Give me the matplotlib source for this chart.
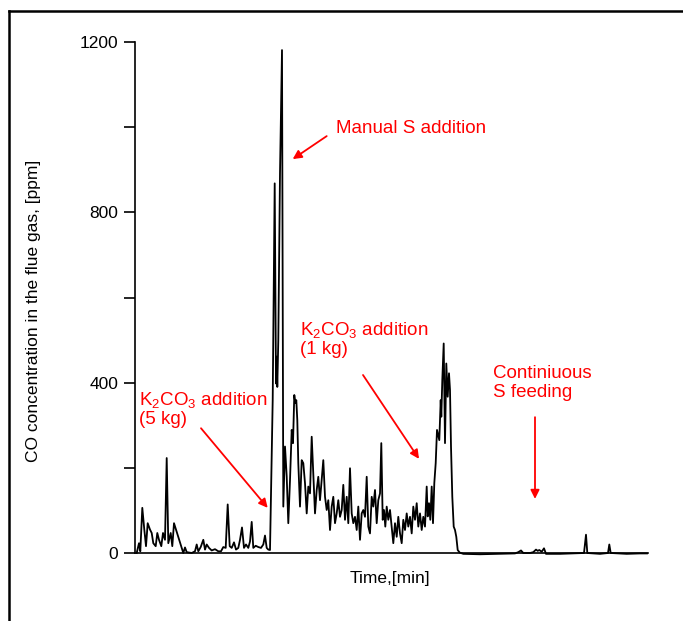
import matplotlib
matplotlib.use("Agg")
import matplotlib.pyplot as plt
from matplotlib.lines import Line2D

plt.rcParams['font.family'] = ['Liberation Sans', 'DejaVu Sans']
plt.rcParams['mathtext.fontset'] = 'custom'
plt.rcParams['mathtext.rm'] = 'Liberation Sans'
plt.rcParams['mathtext.it'] = 'Liberation Sans:italic'

# ---- data (time in arbitrary min, CO in ppm) ----
time = [1.7, 4.0, 5.3, 7.3, 9.3, 11.0, 12.7, 15.0, 16.7, 18.3, 20.7, 22.3, 24.0, 26.3,
        28.0, 30.0, 31.7, 33.3, 35.7, 37.3, 39.0, 48.3, 50.0, 51.7, 56.7, 60.0, 61.7,
        63.3, 65.7, 68.3, 70.0, 71.7, 74.0, 76.7, 80.0, 83.3, 86.0, 88.3, 90.7, 92.7,
        94.7, 96.7, 99.0, 101.0, 103.3, 105.0, 107.0, 109.0, 111.0, 113.3, 115.0,
        116.7, 118.3, 120.7, 123.3, 126.0, 128.3, 130.0, 131.7, 133.3,
        135.0, 137.7, 139.7, 141.0, 141.7, 142.3, 143.3, 145.0, 147.0, 148.3, 150.0,
        151.7, 153.3, 155.0, 156.7, 158.0, 159.3, 160.3, 161.3, 162.3, 163.3, 165.0,
        166.7, 168.3, 170.0, 171.7, 173.3, 175.0, 176.7, 178.3, 180.0, 181.7, 183.3,
        185.0, 186.7, 188.3, 190.0, 191.7, 193.3, 195.0, 196.7, 198.3, 200.0, 201.7,
        203.3, 205.0, 206.7, 208.3, 210.0, 211.7, 213.3, 215.0, 216.7, 218.3, 220.0,
        221.7, 223.3, 225.0,
        226.7, 228.3, 230.0, 231.7, 233.3, 235.0, 236.7, 238.3, 240.0, 241.7, 243.3,
        245.0, 246.3, 247.7, 249.0, 250.3, 251.7, 253.3, 255.0, 256.7, 258.3, 260.0,
        261.7, 263.3, 265.0, 266.7, 268.3, 270.0, 271.7, 273.3, 275.0, 276.7, 278.3,
        280.0, 281.7, 283.3, 285.0, 286.7, 288.3, 290.0,
        291.7, 292.7, 294.0, 295.3, 296.7, 298.0, 299.3, 300.7, 302.0, 304.3, 305.7,
        306.3, 307.3, 308.7, 310.0, 311.3, 312.7, 314.0, 315.0, 316.0, 317.3, 318.7,
        320.0, 321.3, 322.7, 324.7,
        328.3, 345.0, 365.0, 380.0, 383.3, 386.0, 388.3, 395.0, 398.3, 401.0, 402.7,
        404.3, 406.7, 409.0, 411.0, 425.0, 438.3, 449.0, 451.0, 452.3, 465.0, 473.0,
        474.3, 475.7, 491.7, 505.0, 512.0]

co = [0, 23, 4, 106, 55, 16, 70, 55, 47, 23, 16, 47, 31, 16,
      47, 31, 223, 23, 47, 16, 70, 0, 13, 2, 0, 4, 20,
      4, 14, 31, 8, 20, 12, 6, 9, 4, 4, 14, 12, 114,
      16, 12, 25, 8, 12, 31, 60, 12, 20, 12, 27,
      73, 12, 17, 14, 12, 20, 41, 12, 8,
      7, 359, 868, 398, 461, 390, 500, 892, 1181, 109, 250,
      180, 70, 171, 289, 258, 371, 352, 359, 312, 211, 109,
      218, 211, 164, 93, 156, 140, 273, 187, 93, 148, 179,
      124, 171, 218, 132, 101, 124, 54, 109, 132, 70, 93,
      124, 85, 101, 160, 78, 132, 70, 199, 93, 70, 85,
      54, 109, 31,
      93, 101, 85, 179, 62, 46, 132, 109, 148, 70, 124,
      140, 258, 78, 101, 62, 109, 78, 101, 62, 23, 70,
      38, 85, 46, 23, 78, 54, 93, 62, 85, 46, 109,
      78, 117, 62, 93, 54, 85, 62,
      156, 86, 117, 78, 156, 70, 164, 211, 289, 265, 359,
      320, 406, 492, 258, 445, 367, 422, 383, 250, 132, 62,
      54, 38, 7, 1,
      -2, -3, -2, -1, 2, 6, 0, 0, 2, 8, 5,
      7, 3, 11, -2, -2, -1, 0, 43, 0, -2, 0,
      20, 0, -2, -1, -1]

yticks_major = [0, 400, 800, 1200]
yticks_minor = [200, 600, 1000]

fig = plt.figure(figsize=(6.83, 6.21), dpi=100)
ax = fig.add_axes([135 / 683, 68 / 621, 513 / 683, 511 / 621])

ax.plot(time, co, color='black', lw=1.3, clip_on=False)

ax.set_xlim(0, 513)
ax.set_ylim(0, 1200)
ax.set_yticks(yticks_major)
ax.set_yticks(yticks_minor, minor=True)
ax.set_xticks([])
ax.tick_params(axis='y', which='both', direction='out', length=8, width=1.2,
               labelsize=12.5, pad=4)
for s in ['top', 'right']:
    ax.spines[s].set_visible(False)
for s in ['left', 'bottom']:
    ax.spines[s].set_linewidth(1.2)

ax.set_ylabel('CO concentration in the flue gas, [ppm]', fontsize=12.5)
ax.yaxis.set_label_coords(-0.183, 0.474)
ax.set_xlabel('Time,[min]', fontsize=12.5)
ax.xaxis.set_label_coords(0.497, -0.035)

red = '#ff0000'
arrow = dict(arrowstyle='-|>', color=red, lw=1.3, mutation_scale=13,
             shrinkA=0, shrinkB=0)
fs = 13.5

ax.text(201, 986, 'Manual S addition', color=red, fontsize=fs, va='baseline')
ax.annotate('', xy=(157.7, 925), xytext=(191.7, 979), arrowprops=arrow)

ax.text(4, 383, 'K$_\\mathrm{2}$CO$_\\mathrm{3}$ addition\n(5 kg)', color=red,
        fontsize=fs, va='top', linespacing=1.1)
ax.annotate('', xy=(132.7, 106), xytext=(66, 293), arrowprops=arrow)

ax.text(165, 547, 'K$_\\mathrm{2}$CO$_\\mathrm{3}$ addition\n(1 kg)', color=red,
        fontsize=fs, va='top', linespacing=1.1)
ax.annotate('', xy=(284, 221), xytext=(228, 418), arrowprops=arrow)

ax.text(358, 441, 'Continiuous\nS feeding', color=red, fontsize=fs, va='top',
        linespacing=1.1)
ax.annotate('', xy=(400, 127), xytext=(400, 319), arrowprops=arrow)

# frame lines (top and left only)
fig.add_artist(Line2D([9 / 683, 1], [1 - 11 / 621, 1 - 11 / 621],
                      transform=fig.transFigure, color='black', lw=1.8))
fig.add_artist(Line2D([9 / 683, 9 / 683], [0, 1 - 11 / 621],
                      transform=fig.transFigure, color='black', lw=1.8))

fig.savefig('out.png', dpi=100)
